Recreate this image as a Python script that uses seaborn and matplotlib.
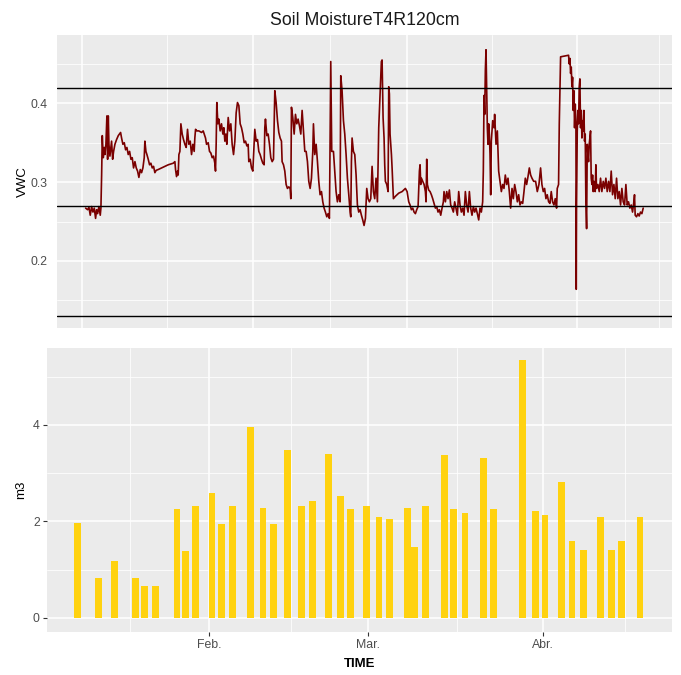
import matplotlib
matplotlib.use("Agg")
import matplotlib.pyplot as plt
from matplotlib.ticker import FixedLocator, NullFormatter
import seaborn as sns
import pandas as pd

# ---------------- data ----------------
title = "Soil MoistureT4R120cm"

# soil moisture series: days after 1 Jan, volumetric water content
vwc_day = [
    0.61, 0.97, 1.21, 1.45, 1.70, 1.94, 2.18, 2.42, 2.61, 2.79, 3.03, 3.27, 3.39,
    3.52, 3.64, 3.82, 4.00, 4.12, 4.30, 4.48, 4.61, 4.73, 4.85, 5.03, 5.21, 5.33,
    5.52, 5.70, 5.94, 6.24, 6.55, 6.97, 7.15, 7.39, 7.64, 7.88, 8.12, 8.36, 8.61,
    8.85, 9.09, 9.33, 9.58, 9.82, 10.06, 10.30, 10.55, 10.79, 11.03, 11.27, 11.39,
    11.58, 11.76, 12.00, 12.24, 12.48, 12.73, 12.97, 13.21, 13.45, 13.82, 14.42,
    15.03, 15.64, 16.55, 16.85, 16.97, 17.15, 17.33, 17.45, 17.58, 17.76, 17.94,
    18.18, 18.42, 18.67, 18.91, 19.15, 19.39, 19.64, 19.88, 20.12, 20.36, 20.48,
    20.61, 20.85, 21.21, 21.70, 22.00, 22.18, 22.42, 22.61, 22.91, 23.15, 23.39,
    23.64, 23.88, 24.12, 24.24, 24.36, 24.48, 24.67, 24.85, 25.09, 25.33, 25.58,
    25.76, 25.94, 26.12, 26.30, 26.55, 26.79, 27.03, 27.27, 27.52,
    27.76, 28.00, 28.24, 28.49, 28.73, 28.97, 29.21, 29.46, 29.70, 29.94, 30.18,
    30.30, 30.55, 30.79, 31.03, 31.15, 31.39, 31.64, 31.88, 32.12, 32.36, 32.61,
    32.85, 33.09, 33.21, 33.33, 33.58, 33.82, 34.06, 34.30, 34.55, 34.79, 35.03,
    35.27, 35.52, 35.76, 36.00, 36.24, 36.36, 36.61, 36.85, 37.09, 37.33, 37.58,
    37.82, 37.94, 38.06, 38.30, 38.55, 38.79, 39.03, 39.27, 39.52, 39.76, 40.00,
    40.24, 40.49, 40.73, 40.97, 41.21, 41.46, 41.70, 41.94, 42.06, 42.30, 42.55,
    42.79, 43.03, 43.27, 43.52, 43.76, 44.00, 44.24, 44.49, 44.73, 44.97, 45.21,
    45.39, 45.70, 45.94, 46.18, 46.42, 46.67, 46.91, 47.03, 47.27, 47.52, 47.76,
    48.00, 48.24, 48.49, 48.73, 48.85, 48.97, 49.09, 49.33, 49.58, 49.82, 50.06,
    50.30, 50.55, 50.79, 51.03, 51.27, 51.52, 51.76, 52.00, 52.24, 52.49, 52.73,
    52.97, 53.21, 53.45, 53.70, 53.94, 54.18, 54.42,
    54.55, 54.73, 54.91, 55.03, 55.15, 55.40, 55.64, 55.76, 55.88, 56.00, 56.25,
    56.37, 56.61, 56.97, 57.58, 58.19, 58.79, 59.10, 59.40, 59.64, 59.88, 60.13,
    60.37, 60.61, 60.85, 61.10, 61.34, 61.46, 61.58, 61.70, 61.94, 62.19, 62.43,
    62.55, 62.67, 62.79, 63.03, 63.28, 63.52, 63.76, 64.00, 64.25, 64.49, 64.73,
    64.97, 65.22, 65.46, 65.70, 65.82, 66.07, 66.31, 66.55, 66.79, 67.03, 67.28,
    67.52, 67.76, 68.00, 68.25, 68.49, 68.73, 68.97, 69.22, 69.46, 69.70, 69.94,
    70.19, 70.43, 70.67, 70.91, 71.16, 71.40, 71.64, 71.88, 72.13, 72.37, 72.61,
    72.85, 72.97, 73.10, 73.22, 73.34, 73.46, 73.58, 73.70, 73.82, 73.94, 74.07,
    74.19, 74.31, 74.43, 74.67, 74.91, 75.03, 75.28, 75.52, 75.76, 76.00, 76.25,
    76.49, 76.73, 76.97, 77.22, 77.46, 77.70, 77.94, 78.19, 78.43, 78.67, 78.91,
    79.16, 79.40, 79.64, 79.88, 80.13, 80.37, 80.61, 80.85, 81.10, 81.34, 81.58,
    81.82, 82.13,
    82.48, 82.79, 83.09, 83.39, 83.63, 83.88, 84.12, 84.36, 84.60, 84.85, 85.09,
    85.33, 85.57, 85.82, 86.06, 86.30, 86.42, 86.66, 86.79, 87.03, 88.48, 88.60,
    88.73, 88.85, 88.97, 89.09, 89.21, 89.33, 89.45, 89.57, 89.70, 89.82, 89.88,
    89.94, 90.06, 90.18, 90.30, 90.42, 90.54, 90.66, 90.79, 90.91, 91.03, 91.15,
    91.27, 91.39, 91.51, 91.63, 91.76, 91.88, 92.00, 92.12, 92.24, 92.48, 92.60,
    92.73, 92.85, 92.97, 93.09, 93.33, 93.45, 93.57, 93.82, 94.06, 94.30, 94.54,
    94.79, 95.03, 95.27, 95.51, 95.76, 96.00, 96.24, 96.48, 96.73, 96.97, 97.21,
    97.45, 97.70, 97.94, 98.18, 98.42, 98.67, 98.91, 99.15, 99.39, 99.63, 99.88,
    100.12, 100.36, 100.48, 100.60, 100.85, 101.09, 101.33, 101.57, 101.82, 102.06,
]
vwc = [
    0.267, 0.265, 0.268, 0.258, 0.269, 0.262, 0.267, 0.254, 0.265, 0.260, 0.269, 0.258, 0.267,
    0.309, 0.359, 0.331, 0.344, 0.335, 0.348, 0.384, 0.329, 0.384, 0.348, 0.333, 0.344, 0.352,
    0.329, 0.339, 0.348, 0.354, 0.359, 0.363, 0.356, 0.348, 0.350, 0.341, 0.344, 0.335, 0.339,
    0.329, 0.331, 0.318, 0.326, 0.318, 0.314, 0.306, 0.316, 0.312, 0.318, 0.331, 0.352,
    0.339, 0.335, 0.329, 0.322, 0.324, 0.318, 0.320, 0.312, 0.315, 0.316, 0.318,
    0.320, 0.322, 0.324, 0.326, 0.316, 0.307, 0.314, 0.309, 0.335, 0.339, 0.374,
    0.361, 0.354, 0.348, 0.344, 0.367, 0.348, 0.352, 0.335, 0.348, 0.339, 0.356,
    0.367, 0.365, 0.365, 0.363, 0.365, 0.361, 0.356, 0.348, 0.350, 0.339, 0.337,
    0.331, 0.333, 0.324, 0.314, 0.348, 0.401, 0.374, 0.380, 0.365, 0.374, 0.361,
    0.369, 0.352, 0.361, 0.348, 0.382, 0.365, 0.374, 0.348, 0.335,
    0.352, 0.388, 0.401, 0.397, 0.374, 0.369, 0.361, 0.350, 0.352, 0.346, 0.348,
    0.326, 0.329, 0.318, 0.314, 0.331, 0.367, 0.352, 0.354, 0.339, 0.335, 0.329,
    0.324, 0.322, 0.369, 0.380, 0.359, 0.361, 0.348, 0.331, 0.326, 0.329, 0.416,
    0.401, 0.378, 0.363, 0.356, 0.352, 0.326, 0.322, 0.314, 0.297, 0.292, 0.294,
    0.292, 0.279, 0.395, 0.382, 0.361, 0.386, 0.374, 0.380, 0.371, 0.361, 0.391,
    0.365, 0.339, 0.339, 0.326, 0.301, 0.292, 0.305, 0.339, 0.374, 0.335, 0.348,
    0.326, 0.301, 0.284, 0.288, 0.275, 0.267, 0.262, 0.256, 0.260, 0.254, 0.453,
    0.339, 0.339, 0.314, 0.288, 0.275, 0.284, 0.275, 0.435, 0.416, 0.378, 0.361,
    0.335, 0.305, 0.284, 0.262, 0.256, 0.326, 0.356, 0.339, 0.335, 0.309, 0.271,
    0.262, 0.265, 0.258, 0.252, 0.245, 0.254, 0.292, 0.279, 0.275, 0.279, 0.320,
    0.288, 0.279, 0.305, 0.275, 0.369, 0.412, 0.453,
    0.455, 0.382, 0.356, 0.322, 0.301, 0.297, 0.288, 0.421, 0.412, 0.361, 0.335,
    0.318, 0.279, 0.282, 0.286, 0.288, 0.292, 0.288, 0.275, 0.271, 0.265, 0.267,
    0.262, 0.260, 0.265, 0.269, 0.314, 0.322, 0.297, 0.305, 0.301, 0.297, 0.288,
    0.275, 0.329, 0.297, 0.290, 0.288, 0.284, 0.279, 0.273, 0.267, 0.269, 0.262,
    0.265, 0.258, 0.267, 0.275, 0.288, 0.275, 0.288, 0.279, 0.290, 0.271, 0.267,
    0.262, 0.275, 0.267, 0.258, 0.288, 0.271, 0.262, 0.267, 0.258, 0.288, 0.271,
    0.262, 0.288, 0.267, 0.258, 0.269, 0.262, 0.267, 0.260, 0.252, 0.267, 0.262,
    0.275, 0.314, 0.410, 0.386, 0.442, 0.468, 0.421, 0.369, 0.348, 0.374, 0.361,
    0.335, 0.284, 0.352, 0.378, 0.369, 0.386, 0.348, 0.365, 0.314, 0.301, 0.288,
    0.297, 0.292, 0.309, 0.297, 0.305, 0.288, 0.267, 0.292, 0.279, 0.297, 0.288,
    0.275, 0.284, 0.271, 0.275, 0.273, 0.288, 0.305, 0.297, 0.307, 0.318, 0.309,
    0.305, 0.301,
    0.301, 0.288, 0.297, 0.318, 0.297, 0.288, 0.292, 0.279, 0.284, 0.275, 0.273,
    0.288, 0.275, 0.271, 0.279, 0.267, 0.292, 0.297, 0.374, 0.459, 0.461, 0.450,
    0.457, 0.438, 0.446, 0.421, 0.433, 0.391, 0.416, 0.369, 0.399, 0.374, 0.164,
    0.271, 0.365, 0.391, 0.374, 0.421, 0.431, 0.369, 0.391, 0.356, 0.378, 0.365,
    0.391, 0.352, 0.361, 0.275, 0.241, 0.348, 0.335, 0.326, 0.348, 0.365, 0.305,
    0.297, 0.309, 0.288, 0.301, 0.288, 0.322, 0.292, 0.297, 0.288, 0.305, 0.288,
    0.301, 0.292, 0.305, 0.288, 0.301, 0.288, 0.314, 0.284, 0.297, 0.279, 0.305,
    0.279, 0.288, 0.271, 0.292, 0.275, 0.271, 0.297, 0.271, 0.275, 0.267, 0.271,
    0.262, 0.275, 0.284, 0.258, 0.256, 0.260, 0.257, 0.262, 0.260, 0.267,
]
ref_levels = [0.42, 0.27, 0.13]

# irrigation volumes: days after 1 Jan, m3
irr_day = [
    7.7, 11.4, 14.3, 17.9, 19.6, 21.5, 25.3, 26.8, 28.6, 31.5, 33.1, 35.1, 38.3,
    40.5, 42.3, 44.8, 47.3, 49.2, 52.0, 54.2, 56.0, 58.8, 61.0, 62.9, 66.0, 67.3,
    69.2, 72.6, 74.2, 76.2, 79.5, 81.2, 86.4, 88.7, 90.3, 93.3, 95.1, 97.1, 100.1,
    102.0, 103.9, 107.1,
]
irr_m3 = [
    1.97, 0.82, 1.18, 0.82, 0.66, 0.66, 2.26, 1.39, 2.32, 2.58, 1.94, 2.32, 3.95,
    2.28, 1.94, 3.49, 2.32, 2.43, 3.40, 2.53, 2.26, 2.32, 2.08, 2.05, 2.28, 1.46,
    2.32, 3.38, 2.26, 2.17, 3.31, 2.26, 5.34, 2.22, 2.13, 2.82, 1.59, 1.40, 2.08,
    1.40, 1.59, 2.08,
]

month_days = [31, 59, 90]
month_labels = ["Feb.", "Mar.", "Abr."]

# ---------------- style ----------------
sns.set_theme(style="darkgrid", rc={
    "axes.facecolor": "#EBEBEB",
    "grid.color": "white",
    "axes.edgecolor": "none",
})
plt.rcParams["font.family"] = ["Liberation Sans", "DejaVu Sans"]

fig = plt.figure(figsize=(6.81, 6.75), dpi=100)
fig.patch.set_facecolor("white")

ax1 = fig.add_axes([57 / 681, 1 - 328.3 / 675, 615 / 681, 293.3 / 675])
ax2 = fig.add_axes([46.7 / 681, 1 - 631.7 / 675, 625 / 681, 283.4 / 675])

# ---------------- top panel ----------------
df_vwc = pd.DataFrame({"day": vwc_day, "VWC": vwc})
sns.lineplot(data=df_vwc, x="day", y="VWC", ax=ax1, estimator=None, sort=False,
             color="#7A0000", linewidth=1.2)
for lvl in ref_levels:
    ax1.axhline(lvl, color="black", linewidth=1.0, zorder=3)

ax1.set_xlim(-4.6, 107.3)
ax1.set_ylim(0.1145, 0.4867)
ax1.xaxis.set_major_locator(FixedLocator([0, 31, 59, 90]))
ax1.xaxis.set_minor_locator(FixedLocator([15.5, 45, 74.5, 105]))
ax1.xaxis.set_major_formatter(NullFormatter())
ax1.yaxis.set_major_locator(FixedLocator([0.2, 0.3, 0.4]))
ax1.yaxis.set_minor_locator(FixedLocator([0.15, 0.25, 0.35, 0.45]))
ax1.set_yticklabels(["0.2", "0.3", "0.4"])
ax1.set_xlabel("")
ax1.set_ylabel("VWC", fontsize=9.5, color="black", labelpad=1)
ax1.tick_params(axis="both", which="both", length=0)
ax1.tick_params(axis="y", labelsize=8.8, labelcolor="#4D4D4D", pad=7)
ax1.grid(which="major", color="white", linewidth=1.1)
ax1.grid(which="minor", color="white", linewidth=0.55)
ax1.set_axisbelow(True)
ax1.set_title(title, fontsize=12.8, color="#1A1A1A", pad=7)

# ---------------- bottom panel ----------------
ax2.bar(irr_day, irr_m3, width=1.2, color="#FFD20F", linewidth=0)
ax2.set_xlim(2.28, 112.7)
ax2.set_ylim(-0.29, 5.59)
ax2.xaxis.set_major_locator(FixedLocator(month_days))
ax2.set_xticklabels(month_labels)
ax2.xaxis.set_minor_locator(FixedLocator([17.0, 45.4, 74.8, 104.4]))
ax2.yaxis.set_major_locator(FixedLocator([0, 2, 4]))
ax2.yaxis.set_minor_locator(FixedLocator([1, 3, 5]))
ax2.set_yticklabels(["0", "2", "4"])
ax2.tick_params(axis="both", which="major", bottom=True, left=True, length=3,
                width=0.8, color="#333333", labelsize=8.8, labelcolor="#4D4D4D", pad=2)
ax2.tick_params(axis="both", which="minor", length=0)
ax2.grid(which="major", color="white", linewidth=1.1)
ax2.grid(which="minor", color="white", linewidth=0.55)
ax2.set_axisbelow(True)
ax2.set_xlabel("TIME", fontsize=9.5, color="black", fontweight="bold", labelpad=5)
ax2.set_ylabel("m3", fontsize=9.5, color="black", labelpad=4)

fig.savefig("out.png", dpi=100, facecolor="white")
